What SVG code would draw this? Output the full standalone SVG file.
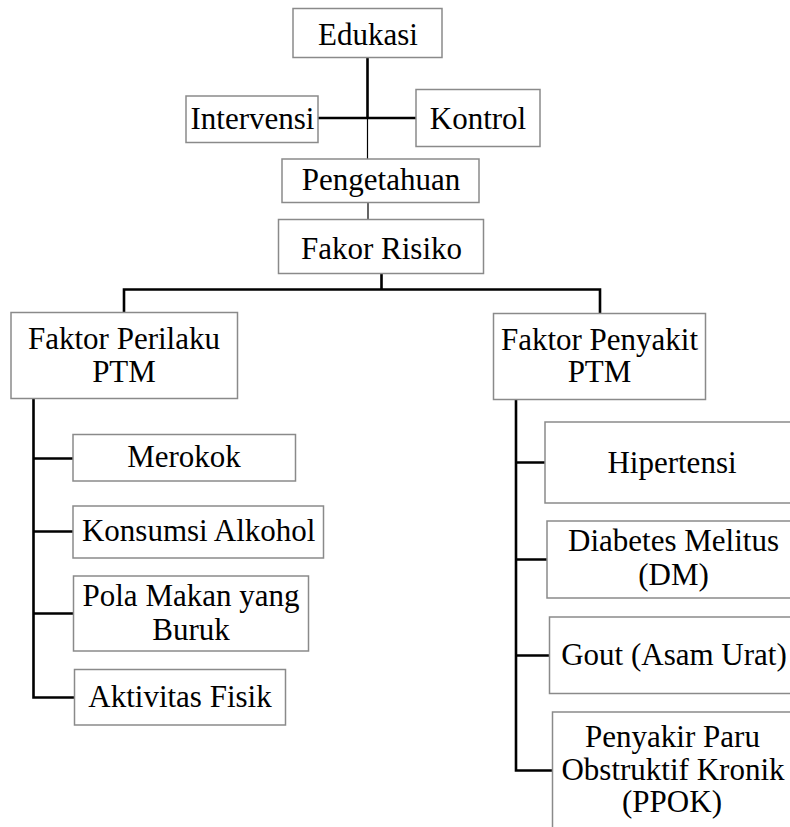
<svg xmlns="http://www.w3.org/2000/svg" width="790" height="827" viewBox="0 0 790 827">
<style>
.box{fill:#fff;stroke:#8a8a8a;stroke-width:1.5}
.t{font-family:"Liberation Serif","Times New Roman",serif;font-size:31px;fill:#000;text-anchor:middle}
.thick{stroke:#000;stroke-width:2.6;fill:none}
.thin{stroke:#000;stroke-width:1.2;fill:none}
</style>
<rect width="790" height="827" fill="#fff"/>
<g id="connectors">
<path class="thick" d="M367.5 57 V118 M318 118 H416"/>
<path class="thin" d="M367.5 118 V159 M368 198 V220"/>
<path class="thick" d="M381.5 273 V289.5 M124 289.5 H600 M124 288.3 V312 M600 288.3 V313"/>
<path class="thick" d="M33.5 398 V698 M32.2 458.5 H73 M32.2 531.5 H73 M32.2 613.5 H73 M32.2 697.5 H74"/>
<path class="thick" d="M516 399 V771 M514.7 462.5 H545 M514.7 559.5 H547 M514.7 655.5 H549 M514.7 770.5 H552"/>
</g>
<g id="edukasi"><rect class="box" x="293" y="8.5" width="149" height="49"/><text class="t" x="368" y="44.5">Edukasi</text></g>
<g id="intervensi"><rect class="box" x="186" y="96" width="132" height="46.5"/><text class="t" x="252.5" y="128.5">Intervensi</text></g>
<g id="kontrol"><rect class="box" x="416" y="89.5" width="124" height="57"/><text class="t" x="478" y="128.5">Kontrol</text></g>
<g id="pengetahuan"><rect class="box" x="282" y="159" width="197" height="43.5"/><text class="t" x="381" y="190">Pengetahuan</text></g>
<g id="fakor-risiko"><rect class="box" x="278.5" y="219.5" width="205" height="54"/><text class="t" x="381.5" y="258.5">Fakor Risiko</text></g>
<g id="faktor-perilaku"><rect class="box" x="11" y="312.5" width="226.5" height="86"/><text class="t" x="124" y="348.5">Faktor Perilaku</text><text class="t" x="124" y="382">PTM</text></g>
<g id="merokok"><rect class="box" x="73" y="434.5" width="222.5" height="46.5"/><text class="t" x="184" y="467">Merokok</text></g>
<g id="konsumsi-alkohol"><rect class="box" x="73" y="506" width="250.5" height="52"/><text class="t" x="198.7" y="541">Konsumsi Alkohol</text></g>
<g id="pola-makan"><rect class="box" x="73.5" y="576" width="235" height="75"/><text class="t" x="191" y="606">Pola Makan yang</text><text class="t" x="191" y="640">Buruk</text></g>
<g id="aktivitas-fisik"><rect class="box" x="74.5" y="669.5" width="211" height="55.5"/><text class="t" x="180" y="707">Aktivitas Fisik</text></g>
<g id="faktor-penyakit"><rect class="box" x="493.5" y="313.5" width="212" height="86"/><text class="t" x="599.5" y="350">Faktor Penyakit</text><text class="t" x="599.5" y="382">PTM</text></g>
<g id="hipertensi"><rect class="box" x="545" y="422" width="260" height="81"/><text class="t" x="672" y="473">Hipertensi</text></g>
<g id="diabetes"><rect class="box" x="547" y="521" width="260" height="77"/><text class="t" x="673.5" y="551">Diabetes Melitus</text><text class="t" x="673.5" y="585">(DM)</text></g>
<g id="gout"><rect class="box" x="549.5" y="617" width="260" height="76.5"/><text class="t" x="674" y="665">Gout (Asam Urat)</text></g>
<g id="ppok"><rect class="box" x="552.5" y="712" width="260" height="130"/><text class="t" x="672.5" y="747">Penyakir Paru</text><text class="t" x="673" y="780">Obstruktif Kronik</text><text class="t" x="672" y="812">(PPOK)</text></g>
</svg>
